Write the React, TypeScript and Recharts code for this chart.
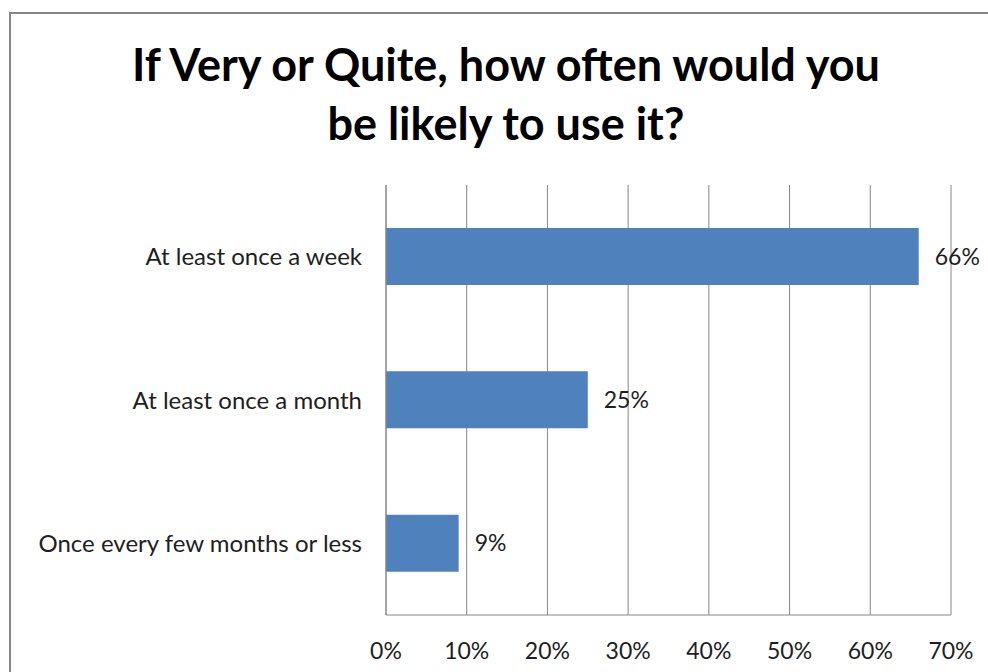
import React from "react";
import { BarChart, Bar, XAxis, YAxis, CartesianGrid, LabelList } from "recharts";

const categories = [
  "At least once a week",
  "At least once a month",
  "Once every few months or less",
];
const shares = [0.66, 0.25, 0.09];
const xTicks = [0, 0.1, 0.2, 0.3, 0.4, 0.5, 0.6, 0.7];
const titleLines = ["If Very or Quite, how often would you", "be likely to use it?"];

const data = categories.map((name, i) => ({ name, value: shares[i] }));

const FONT = "Lato, 'Open Sans', sans-serif";
const pct = (v: number) => `${Math.round(v * 100)}%`;

export default function App() {
  return (
    <div
      style={{
        position: "absolute",
        left: 0,
        top: 0,
        width: 988,
        height: 672,
        overflow: "hidden",
        background: "#fff",
        fontFamily: FONT,
      }}
    >
      <div
        style={{
          position: "absolute",
          left: 9,
          top: 12,
          width: 1000,
          height: 700,
          border: "2px solid #868686",
        }}
      />
      <div
        style={{
          position: "absolute",
          left: 0,
          top: 35,
          width: 1012,
          textAlign: "center",
          fontWeight: 700,
          fontSize: 45,
          lineHeight: "59px",
          color: "#000",
        }}
      >
        {titleLines.map((t) => (
          <div key={t}>{t}</div>
        ))}
      </div>
      <div style={{ position: "absolute", left: 0, top: 0 }}>
        <BarChart
          width={988}
          height={672}
          data={data}
          layout="vertical"
          margin={{ top: 185, right: 37, bottom: 0, left: 0 }}
          barCategoryGap="30%"
        >
          <CartesianGrid
            horizontal={false}
            vertical={true}
            stroke="#868686"
            strokeWidth={1}
          />
          <XAxis
            type="number"
            domain={[0, 0.7]}
            ticks={xTicks}
            tickFormatter={pct}
            height={57}
            tickLine={false}
            axisLine={{ stroke: "#868686" }}
            tick={{ fill: "#1e1e1e", fontSize: 23, fontFamily: FONT, dy: 20 }}
            interval={0}
          />
          <YAxis
            type="category"
            dataKey="name"
            width={386}
            tickLine={false}
            axisLine={{ stroke: "#868686" }}
            tick={{ fill: "#1e1e1e", fontSize: 24, fontFamily: FONT, dx: -16 }}
            interval={0}
          />
          <Bar dataKey="value" fill="#4F81BD" isAnimationActive={false}>
            <LabelList
              dataKey="value"
              position="right"
              offset={16}
              formatter={(v: any) => pct(Number(v))}
              style={{ fill: "#1e1e1e", fontSize: 23, fontFamily: FONT }}
            />
          </Bar>
        </BarChart>
      </div>
    </div>
  );
}
